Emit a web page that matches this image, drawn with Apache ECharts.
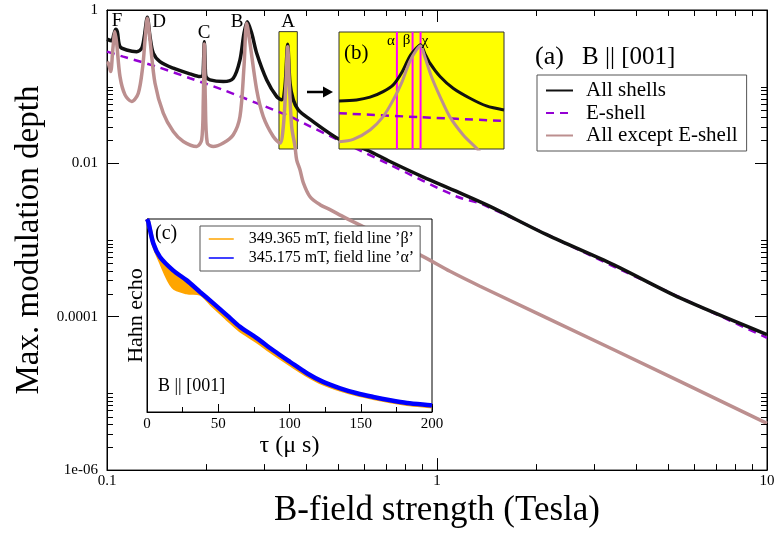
<!DOCTYPE html>
<html><head><meta charset="utf-8">
<script src="https://cdn.jsdelivr.net/npm/echarts@6/dist/echarts.min.js"></script>
<style>html,body{margin:0;padding:0;background:#fff}#c{width:778px;height:533px}</style>
</head><body><div id="c"></div>
<script>
const FONT = "'Liberation Serif','DejaVu Serif',serif";

// ---------- main panel (a): [B (T), max modulation depth] ----------
const allShells = [[0.1,0.4155],[0.1033,0.398],[0.1050,0.487],[0.1063,0.561],[0.1075,0.517],[0.1095,0.3327],[0.1147,0.3013],[0.1230,0.2864],[0.1274,0.3171],[0.1297,0.449],[0.1325,0.803],[0.1350,0.449],[0.1381,0.2731],[0.1447,0.2123],[0.1588,0.1741],[0.1784,0.1468],[0.1913,0.1353],[0.1950,0.1382],[0.1958,0.1655],[0.1972,0.3867],[0.1986,0.1655],[0.1995,0.1353],[0.2051,0.1226],[0.2251,0.1165],[0.2414,0.129],[0.2529,0.2234],[0.2601,0.497],[0.2661,0.704],[0.2745,0.497],[0.2842,0.2731],[0.3048,0.1226],[0.3268,0.0743],[0.3384,0.0673],[0.3462,0.1003],[0.3528,0.3575],[0.3585,0.111],[0.3669,0.0673],[0.3799,0.0499],[0.4074,0.0389],[0.5083,0.0203],[0.6124,0.01503],[0.7204,0.01058],[0.9088,0.00663],[1.147,0.0043],[1.447,0.00275],[2.150,0.001175],[3.422,0.000478],[5.450,0.000176],[10,0.0000586]];
const eShell = [[0.1,0.2864],[0.1120,0.2465],[0.1414,0.1827],[0.1784,0.129],[0.2251,0.0908],[0.2842,0.061],[0.3585,0.0408],[0.3933,0.0335],[0.7204,0.0096],[1.147,0.0037],[1.381,0.00289],[3.422,0.000455],[10,0.0000531]];
const allExceptE = [[0.1,0.2104],[0.1009,0.2023],[0.1026,0.1572],[0.1041,0.3013],[0.1057,0.522],[0.1070,0.3685],[0.1095,0.1353],[0.1134,0.0782],[0.1188,0.064],[0.1244,0.0823],[0.1283,0.1827],[0.1304,0.407],[0.1325,0.780],[0.1350,0.407],[0.1398,0.111],[0.1481,0.0452],[0.1588,0.026],[0.1703,0.0193],[0.1870,0.0166],[0.1936,0.0203],[0.1958,0.0673],[0.1972,0.3607],[0.1986,0.0673],[0.2013,0.0184],[0.2099,0.0166],[0.2251,0.0184],[0.2414,0.0236],[0.2529,0.0408],[0.2601,0.1827],[0.2650,0.671],[0.2712,0.3685],[0.2842,0.0908],[0.2976,0.0408],[0.3191,0.0224],[0.3344,0.0184],[0.3422,0.0302],[0.3486,0.111],[0.3528,0.3327],[0.3568,0.111],[0.3628,0.0302],[0.3713,0.0166],[0.3756,0.01114],[0.3844,0.00825],[0.3933,0.00562],[0.4123,0.00367],[0.4421,0.00289],[0.4740,0.00249],[0.5263,0.00196],[0.5969,0.0015],[0.9088,0.000608],[1.095,0.000391],[1.350,0.00025],[3.422,0.0000374],[10,0.00000407]];
const seriesNames = ['All shells','E-shell','All except E-shell'];
// region "A" highlighted in yellow: [Bmin, depthMin, Bmax, depthMax]
const boxA = [0.332, 0.0154, 0.3773, 0.522];

// axis ticks
const xTickLabels = ['0.1','1','10'];
const yTickValues = [1, 0.01, 0.0001, 0.000001];
const yTickLabels = ['1','0.01','0.0001','1e-06'];
const xMinorTicks = [0.2,0.3,0.4,0.5,0.6,0.7,0.8,0.9,2,3,4,5,6,7,8,9];
const yMinorTicks = [0.02,0.03,0.04,0.05,0.06,0.07,0.08,0.09,0.1,
                     0.0002,0.0003,0.0004,0.0005,0.0006,0.0007,0.0008,0.0009,0.001,
                     0.000002,0.000003,0.000004,0.000005,0.000006,0.000007,0.000008,0.000009,0.00001];
const peakLetters = ['F','D','C','B','A'];

// ---------- inset (b): zoom around A, field in mT ----------
const bFieldLines = [345.175, 349.365, 351.5];
const bFieldLabels = ['α','β','χ'];
const bAll = [[329.7,0.0653],[334.4,0.0673],[338.0,0.0730],[341.5,0.0863],[344.2,0.1055],[346.4,0.150],[348.6,0.2466],[350.4,0.317],[351.5,0.350],[352.6,0.273],[354.0,0.202],[356.7,0.1355],[360.2,0.0955],[364.7,0.0708],[369.1,0.0562],[373.8,0.0499]];
const bE = [[329.7,0.0452],[351.5,0.0401],[373.8,0.0359]];
const bExcept = [[329.7,0.0193],[333.5,0.0207],[338.0,0.0274],[341.5,0.0408],[344.2,0.0673],[346.4,0.111],[348.6,0.212],[350.4,0.301],[351.5,0.340],[352.6,0.2466],[354.4,0.1355],[356.7,0.0743],[359.3,0.0408],[362.9,0.0236],[366.5,0.0158],[368.0,0.013]];

// ---------- inset (c): Hahn echo vs tau (µs) ----------
const tau = [0,0.9,4.4,9.1,18.3,27.9,37.2,46.4,56,65.3,77,88.5,100.5,112.2,123.6,135.6,147.3,158.8,170.7,182.4,198.8,200];
const echoAlpha = [1.0,0.985,0.874,0.803,0.734,0.682,0.622,0.564,0.502,0.441,0.383,0.320,0.259,0.201,0.156,0.123,0.097,0.078,0.061,0.047,0.035,0.034];
const echoBeta  = [1.0,0.985,0.874,0.787,0.649,0.62,0.614,0.550,0.485,0.424,0.367,0.306,0.247,0.192,0.148,0.116,0.091,0.072,0.055,0.042,0.030,0.029];
const bandTau  = [4.4,9.1,13.8,18.5,25.5,32.5,37.2,42];
const bandLow  = [0.874,0.787,0.701,0.649,0.623,0.618,0.614,0.585];
const bandHigh = [0.874,0.803,0.770,0.733,0.695,0.652,0.622,0.592];
const insetLegend = ['349.365 mT, field line ’β’','345.175 mT, field line ’α’'];

// ---------- build ----------
const chart = echarts.init(document.getElementById('c'), null, {renderer:'canvas'});
const BLACK = '#111', PURPLE = '#9400d3', BROWN = '#bc8f8f', YELLOW = '#ffff00', MAGENTA = '#ff00ff', ORANGE = '#ffa500';

function minorTickRender(isX){
  return function(params, api){
    const cs = params.coordSys;
    const st = {stroke:'#000', lineWidth:1};
    if (isX){
      const x = Math.round(api.coord([api.value(0), 0.001])[0]) + 0.5;
      return {type:'group', children:[
        {type:'line', shape:{x1:x,y1:cs.y+cs.height,x2:x,y2:cs.y+cs.height-6}, style:st},
        {type:'line', shape:{x1:x,y1:cs.y,x2:x,y2:cs.y+6}, style:st}
      ]};
    } else {
      const y = Math.round(api.coord([1, api.value(1)])[1]) + 0.5;
      return {type:'group', children:[
        {type:'line', shape:{x1:cs.x,y1:y,x2:cs.x+6,y2:y}, style:st},
        {type:'line', shape:{x1:cs.x+cs.width,y1:y,x2:cs.x+cs.width-6,y2:y}, style:st}
      ]};
    }
  };
}

const mainAxisCommon = {
  axisLine:{lineStyle:{color:'#000',width:1}},
  axisTick:{inside:true,length:12,lineStyle:{color:'#000'}},
  splitLine:{show:false}
};

const option = {
  animation:false,
  backgroundColor:'#fff',
  textStyle:{fontFamily:FONT,color:'#000'},
  grid:[
    {left:107, top:10, width:660, height:461, show:true, borderColor:'#000', borderWidth:1, backgroundColor:'transparent'},
    {left:147, top:219, width:285, height:193, show:true, borderColor:'#000', borderWidth:1, backgroundColor:'transparent'},
    {left:339, top:32, width:165, height:117, show:false}
  ],
  xAxis:[
    Object.assign({type:'log', logBase:10, min:0.1, max:10, gridIndex:0, position:'bottom',
      name:'B-field strength (Tesla)', nameLocation:'middle', nameGap:20,
      nameTextStyle:{fontSize:35,fontFamily:FONT,color:'#000'},
      axisLabel:{fontSize:15,fontFamily:FONT,color:'#000',margin:3,showMinLabel:true,showMaxLabel:true,
        formatter:function(v){const e=Math.round(Math.log10(v))+1; return xTickLabels[e]!==undefined?xTickLabels[e]:'';}}
    }, mainAxisCommon),
    Object.assign({type:'log', logBase:10, min:0.1, max:10, gridIndex:0, position:'top', axisLabel:{show:false}}, mainAxisCommon),
    {type:'value', gridIndex:1, min:0, max:200, interval:50,
      name:'τ (μ s)', nameLocation:'middle', nameGap:22,
      nameTextStyle:{fontSize:24,fontFamily:FONT,color:'#000'},
      axisLine:{lineStyle:{color:'#000'}},
      axisTick:{inside:true,length:8,lineStyle:{color:'#000'}},
      minorTick:{show:true,splitNumber:2,length:5,lineStyle:{color:'#000'}},
      axisLabel:{fontSize:15,fontFamily:FONT,color:'#000',margin:5},
      splitLine:{show:false}, minorSplitLine:{show:false}},
    {type:'value', gridIndex:2, min:329.7, max:373.8, show:false}
  ],
  yAxis:[
    Object.assign({type:'log', logBase:100, min:0.000001, max:1, gridIndex:0, position:'left',
      name:'Max. modulation depth', nameLocation:'middle', nameGap:60,
      nameTextStyle:{fontSize:33,fontFamily:FONT,color:'#000'},
      axisLabel:{fontSize:15,fontFamily:FONT,color:'#000',margin:9,showMinLabel:true,showMaxLabel:true,
        formatter:function(v){const i=yTickValues.findIndex(t=>Math.abs(Math.log10(t)-Math.log10(v))<1e-6); return i>=0?yTickLabels[i]:'';}}
    }, mainAxisCommon),
    Object.assign({type:'log', logBase:100, min:0.000001, max:1, gridIndex:0, position:'right', axisLabel:{show:false}}, mainAxisCommon),
    {type:'value', gridIndex:1, min:0, max:1,
      name:'Hahn echo', nameLocation:'middle', nameGap:0,
      nameTextStyle:{fontSize:22,fontFamily:FONT,color:'#000'},
      axisLine:{lineStyle:{color:'#000'}}, axisTick:{show:false}, axisLabel:{show:false}, splitLine:{show:false}},
    {type:'log', logBase:10, gridIndex:2, min:0.0155, max:0.5125, show:false}
  ],
  legend:[
    {data:seriesNames, orient:'vertical', left:537, top:75, padding:[5,9,5,8], itemGap:1.5,
      itemWidth:27, itemHeight:14, backgroundColor:'#fff', borderColor:'#555', borderWidth:1, borderRadius:0,
      selectedMode:false, itemStyle:{opacity:0},
      textStyle:{fontSize:21,fontFamily:FONT,color:'#000',padding:[0,0,0,8]}},
    {data:insetLegend, orient:'vertical', left:200, top:226, padding:[5,6,5,8], itemGap:3,
      itemWidth:25, itemHeight:14, backgroundColor:'#fff', borderColor:'#555', borderWidth:1, borderRadius:0,
      selectedMode:false, itemStyle:{opacity:0}, lineStyle:{width:1.5},
      textStyle:{fontSize:16,fontFamily:FONT,color:'#000',padding:[0,0,0,10]}}
  ],
  series:[
    // yellow region A
    {type:'custom', name:'boxA', xAxisIndex:0, yAxisIndex:0, z:1, silent:true,
      data:[boxA], encode:{x:[0,2], y:[1,3]},
      renderItem:function(params, api){
        const p1 = api.coord([api.value(0), api.value(3)]);
        const p2 = api.coord([api.value(2), api.value(1)]);
        return {type:'rect', shape:{x:p1[0], y:p1[1], width:p2[0]-p1[0], height:p2[1]-p1[1]},
          style:{fill:YELLOW, stroke:'#333', lineWidth:1}};
      }},
    {type:'line', name:'E-shell', xAxisIndex:0, yAxisIndex:0, data:eShell, symbol:'none', smooth:0.3, z:2,
      lineStyle:{color:PURPLE, width:2.5, type:[8,6]}, itemStyle:{color:PURPLE}},
    {type:'line', name:'All shells', xAxisIndex:0, yAxisIndex:0, data:allShells, symbol:'none', smooth:0.3, z:2,
      lineStyle:{color:BLACK, width:3.5}, itemStyle:{color:BLACK}},
    {type:'line', name:'All except E-shell', xAxisIndex:0, yAxisIndex:0, data:allExceptE, symbol:'none', smooth:0.3, z:2,
      lineStyle:{color:BROWN, width:3.5}, itemStyle:{color:BROWN}},
    // minor ticks
    {type:'custom', name:'xminor', xAxisIndex:0, yAxisIndex:0, silent:true, z:3,
      data:xMinorTicks.map(v=>[v,0.001]), renderItem:minorTickRender(true)},
    {type:'custom', name:'yminor', xAxisIndex:0, yAxisIndex:0, silent:true, z:3,
      data:yMinorTicks.map(v=>[1,v]), renderItem:minorTickRender(false)},
    // inset (b)
    {type:'custom', name:'bBg', xAxisIndex:3, yAxisIndex:3, silent:true, z:5,
      data:[[350,0.1]],
      renderItem:function(params, api){
        const cs = params.coordSys;
        return {type:'rect', shape:{x:cs.x, y:cs.y, width:cs.width, height:cs.height},
          style:{fill:YELLOW, stroke:'#333', lineWidth:1}};
      }},
    {type:'custom', name:'bLines', xAxisIndex:3, yAxisIndex:3, silent:true, z:6,
      data:bFieldLines.map(v=>[v,0.1]),
      renderItem:function(params, api){
        const cs = params.coordSys;
        const x = api.coord([api.value(0), 0.1])[0];
        return {type:'line', shape:{x1:x,y1:cs.y,x2:x,y2:cs.y+cs.height}, style:{stroke:MAGENTA, lineWidth:2}};
      }},
    {type:'line', name:'bE', xAxisIndex:3, yAxisIndex:3, data:bE, symbol:'none', smooth:0.3, z:7,
      lineStyle:{color:PURPLE, width:2.5, type:[8,6]}},
    {type:'line', name:'bAll', xAxisIndex:3, yAxisIndex:3, data:bAll, symbol:'none', smooth:0.3, z:7,
      lineStyle:{color:BLACK, width:3}},
    {type:'line', name:'bExcept', xAxisIndex:3, yAxisIndex:3, data:bExcept, symbol:'none', smooth:0.3, z:7,
      lineStyle:{color:BROWN, width:3}},
    // inset (c): orange spread band drawn as polygon through the axis scales
    {type:'custom', name:'band', xAxisIndex:2, yAxisIndex:2, silent:true, z:3,
      data:[[bandTau[0], bandLow[0]]],
      renderItem:function(params, api){
        const pts = [];
        for (let i=0;i<bandTau.length;i++) pts.push(api.coord([bandTau[i], bandHigh[i]]));
        for (let i=bandTau.length-1;i>=0;i--) pts.push(api.coord([bandTau[i], bandLow[i]]));
        return {type:'polygon', shape:{points:pts, smooth:0.2}, style:{fill:ORANGE}};
      }},
    {type:'line', name:insetLegend[0], xAxisIndex:2, yAxisIndex:2, symbol:'none', smooth:0.3, z:3,
      data:tau.map((t,i)=>[t,echoBeta[i]]), lineStyle:{color:ORANGE, width:4}, itemStyle:{color:ORANGE}},
    {type:'line', name:insetLegend[1], xAxisIndex:2, yAxisIndex:2, symbol:'none', smooth:0.3, z:3,
      data:tau.map((t,i)=>[t,echoAlpha[i]]), lineStyle:{color:'#0000ff', width:4.5}, itemStyle:{color:'#0000ff'}}
  ],
  graphic:[
    // peak letters
    {type:'text', z:100, style:{x:117, y:21, text:peakLetters[0], font:'19px '+FONT, fill:'#000', textAlign:'center', textVerticalAlign:'middle'}},
    {type:'text', z:100, style:{x:159, y:22, text:peakLetters[1], font:'19px '+FONT, fill:'#000', textAlign:'center', textVerticalAlign:'middle'}},
    {type:'text', z:100, style:{x:204, y:33, text:peakLetters[2], font:'19px '+FONT, fill:'#000', textAlign:'center', textVerticalAlign:'middle'}},
    {type:'text', z:100, style:{x:237, y:22, text:peakLetters[3], font:'19px '+FONT, fill:'#000', textAlign:'center', textVerticalAlign:'middle'}},
    {type:'text', z:100, style:{x:288, y:22, text:peakLetters[4], font:'19px '+FONT, fill:'#000', textAlign:'center', textVerticalAlign:'middle'}},
    // arrow
    {type:'line', z:100, shape:{x1:307,y1:92,x2:326,y2:92}, style:{stroke:'#000', lineWidth:2.5}},
    {type:'polygon', z:100, shape:{points:[[323,86.5],[333,92],[323,97.5]]}, style:{fill:'#000'}},
    // panel labels
    {type:'text', z:100, style:{x:535, y:57, text:'(a)', font:'26px '+FONT, fill:'#000', textAlign:'left', textVerticalAlign:'middle'}},
    {type:'text', z:100, style:{x:582, y:57, text:'B || [001]', font:'25px '+FONT, fill:'#000', textAlign:'left', textVerticalAlign:'middle'}},
    {type:'text', z:100, style:{x:344, y:53, text:'(b)', font:'21px '+FONT, fill:'#000', textAlign:'left', textVerticalAlign:'middle'}},
    {type:'text', z:100, style:{x:391, y:41, text:bFieldLabels[0], font:'15px '+FONT, fill:'#000', textAlign:'center', textVerticalAlign:'middle'}},
    {type:'text', z:100, style:{x:406.5, y:40, text:bFieldLabels[1], font:'15px '+FONT, fill:'#000', textAlign:'center', textVerticalAlign:'middle'}},
    {type:'text', z:100, style:{x:425, y:41, text:bFieldLabels[2], font:'15px '+FONT, fill:'#000', textAlign:'center', textVerticalAlign:'middle'}},
    {type:'text', z:100, style:{x:155, y:234, text:'(c)', font:'20px '+FONT, fill:'#000', textAlign:'left', textVerticalAlign:'middle'}},
    {type:'text', z:100, style:{x:158, y:386, text:'B || [001]', font:'18px '+FONT, fill:'#000', textAlign:'left', textVerticalAlign:'middle'}}
  ]
};
chart.setOption(option);
</script>
</body></html>
